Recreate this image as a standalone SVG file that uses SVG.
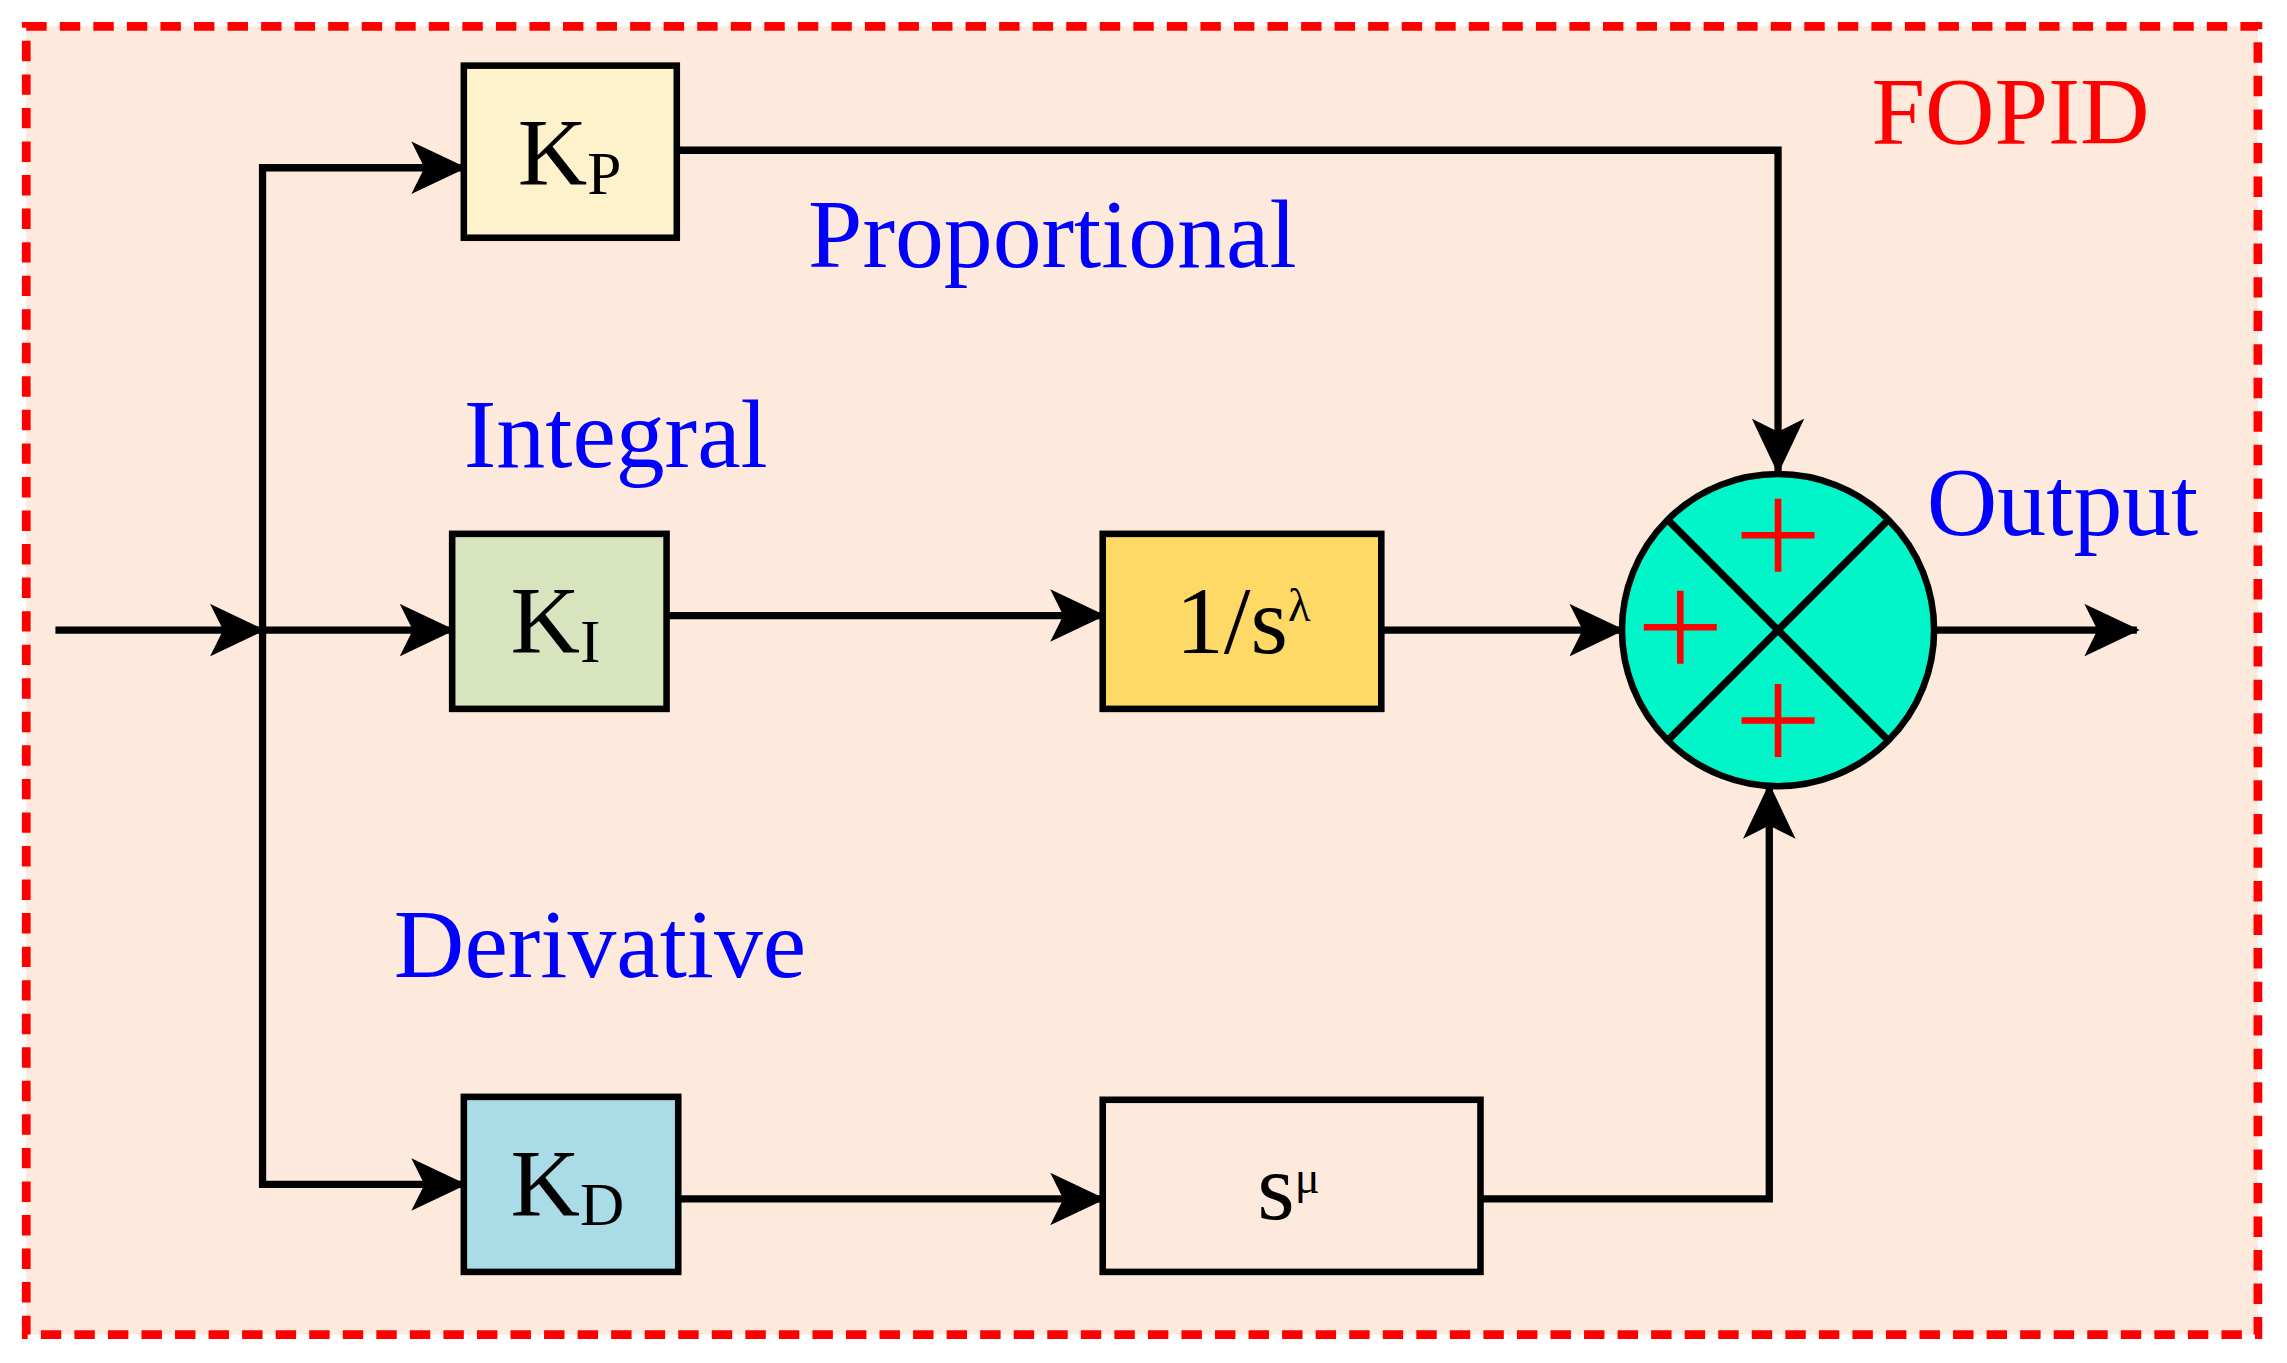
<svg xmlns="http://www.w3.org/2000/svg" width="2287" height="1363" viewBox="0 0 2287 1363">
<style>
.ln{fill:none;stroke:#000;stroke-width:5}
.bx{stroke:#000;stroke-width:4.5}
.t{font-family:"Liberation Serif",serif;font-size:66px;fill:#000}
.s{font-size:42px}
.lb{font-family:"Liberation Serif",serif;font-size:67px;fill:#0000ff}
.pl{stroke:#ff0000;stroke-width:4.5;fill:none}
</style>
<defs>
<marker id="a" markerUnits="userSpaceOnUse" markerWidth="40" markerHeight="36" refX="36" refY="18" orient="auto" viewBox="0 0 40 36">
<path d="M0,0 L38,18 L0,36 L9,18 Z" fill="#000"/>
</marker>
</defs>
<rect width="2287" height="1363" fill="#fff"/>
<g transform="scale(1.4586)">
<rect id="frame" x="18" y="18" width="1530" height="897" fill="#fdeadc" stroke="#ff0000" stroke-width="6" stroke-dasharray="14,9"/>
<text x="1283" y="99" font-family="Liberation Serif,serif" font-size="66" fill="#ff0000">FOPID</text>
<g id="connectors">
<path class="ln" d="M38,432 H180" marker-end="url(#a)"/>
<path class="ln" d="M180,432 V115 H318" marker-end="url(#a)"/>
<path class="ln" d="M180,432 H310" marker-end="url(#a)"/>
<path class="ln" d="M180,432 V812 H318" marker-end="url(#a)"/>
<path class="ln" d="M464,103 H1219 V323" marker-end="url(#a)"/>
<path class="ln" d="M457,422 H756" marker-end="url(#a)"/>
<path class="ln" d="M947,432 H1112" marker-end="url(#a)"/>
<path class="ln" d="M465,822 H756" marker-end="url(#a)"/>
<path class="ln" d="M1015,822 H1213 V539" marker-end="url(#a)"/>
<path class="ln" d="M1326,432 H1465" marker-end="url(#a)"/>
</g>
<g id="kp"><rect class="bx" x="318" y="45" width="146" height="118" fill="#fdf2cc"/><text class="t" x="355" y="127">K<tspan class="s" dy="6">P</tspan></text></g>
<g id="ki"><rect class="bx" x="310" y="366" width="147" height="120" fill="#d7e4bd"/><text class="t" x="350" y="448">K<tspan class="s" dy="6">I</tspan></text></g>
<g id="kd"><rect class="bx" x="318" y="752" width="147" height="120" fill="#a9dce6"/><text class="t" x="350" y="834">K<tspan class="s" dy="6">D</tspan></text></g>
<g id="integ"><rect class="bx" x="756" y="366" width="191" height="120" fill="#ffd966"/><text class="t" x="806" y="448">1/s<tspan font-size="32" dy="-22">λ</tspan></text></g>
<g id="deriv"><rect class="bx" x="756" y="754" width="259" height="118" fill="none"/><text class="t" x="862" y="836" font-size="50">s<tspan font-size="32" dy="-18">μ</tspan></text></g>
<g id="sum">
<circle cx="1219" cy="432" r="107" fill="#00f5c8" stroke="#000" stroke-width="4.5"/>
<path class="ln" d="M1143,356 L1295,508 M1295,356 L1143,508"/>
<path class="pl" d="M1194,367 H1244 M1219,342 V392"/>
<path class="pl" d="M1127,430 H1177 M1152,405 V455"/>
<path class="pl" d="M1194,494 H1244 M1219,469 V519"/>
</g>
<text class="lb" x="554" y="183">Proportional</text>
<text class="lb" x="318" y="320">Integral</text>
<text class="lb" x="270" y="670">Derivative</text>
<text class="lb" x="1321" y="367">Output</text>
</g>
</svg>
